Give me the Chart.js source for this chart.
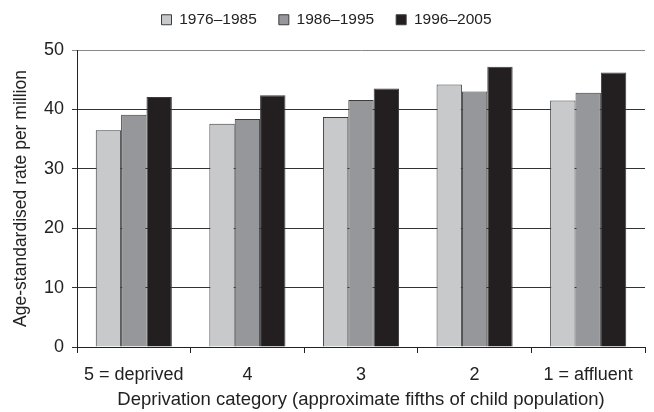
<!DOCTYPE html>
<html>
<head>
<meta charset="utf-8">
<script src="https://cdn.jsdelivr.net/npm/chart.js@4"></script>
<style>
  html, body { margin: 0; padding: 0; background: #fff; }
  #wrap { width: 654px; height: 412px; }
</style>
</head>
<body>
<div id="wrap"><canvas id="depchart"></canvas></div>
<script>
const categories = ["5 = deprived", "4", "3", "2", "1 = affluent"];
const periods = ["1976\u20131985", "1986\u20131995", "1996\u20132005"];
const rates1976 = [36.5, 37.6, 38.7, 44.2, 41.5];
const rates1986 = [39.1, 38.4, 41.6, 43.0, 42.8];
const rates1996 = [42.1, 42.4, 43.5, 47.2, 46.2];
const yTicks = [0, 10, 20, 30, 40, 50];

const fills = ["#c8c9cb", "#96979a", "#231f20"];
const font = "'Liberation Sans', Arial, sans-serif";

const ctx = document.getElementById("depchart");

// keep the legend block a fixed height so the plot starts where the reference does
const legendHeight = {
    id: "legendHeight",
    afterInit(chart) {
        const lg = chart.legend;
        const fit = lg.fit.bind(lg);
        lg.fit = function () { fit(); this.height = 60; };
    }
};

new Chart(ctx, {
    type: "bar",
    data: {
        labels: categories,
        datasets: [rates1976, rates1986, rates1996].map((vals, i) => ({
            label: periods[i],
            data: vals,
            backgroundColor: fills[i],
            borderColor: "#3c3c3c",
            borderWidth: 1,
            categoryPercentage: 0.67,
            barPercentage: 1.0
        }))
    },
    options: {
        responsive: true,
        maintainAspectRatio: false,
        animation: false,
        layout: { padding: { top: -10, right: 9, left: 8, bottom: 0 } },
        plugins: {
            tooltip: { enabled: false },
            legend: {
                position: "top",
                labels: {
                    font: { family: font, size: 15.5 },
                    color: "#222",
                    boxWidth: 10,
                    boxHeight: 10,
                    padding: 22
                }
            }
        },
        scales: {
            x: {
                grid: {
                    offset: true,
                    drawOnChartArea: false,
                    color: "#222",
                    tickLength: 6
                },
                border: { color: "#222", width: 1 },
                ticks: {
                    font: { family: font, size: 18 },
                    color: "#222",
                    padding: 11
                },
                title: {
                    display: true,
                    text: "Deprivation category (approximate fifths of child population)",
                    font: { family: font, size: 18.5 },
                    color: "#222",
                    padding: { top: 0, bottom: 1 }
                },
                afterFit: (s) => { s.height = 65; }
            },
            y: {
                min: 0,
                max: 50,
                afterBuildTicks: (s) => { s.ticks = yTicks.map(v => ({ value: v })); },
                grid: {
                    color: (c) => c.tick && c.tick.value === 50 ? "#888" : "#333",
                    tickLength: 5
                },
                border: { color: "#222", width: 1 },
                ticks: {
                    font: { family: font, size: 18 },
                    color: "#222",
                    padding: 8
                },
                title: {
                    display: true,
                    text: "Age-standardised rate per million",
                    font: { family: font, size: 17.5 },
                    color: "#222",
                    padding: { top: 3, bottom: 2 }
                },
                afterFit: (s) => { s.width = 69; }
            }
        }
    },
    plugins: [legendHeight]
});
</script>
</body>
</html>
